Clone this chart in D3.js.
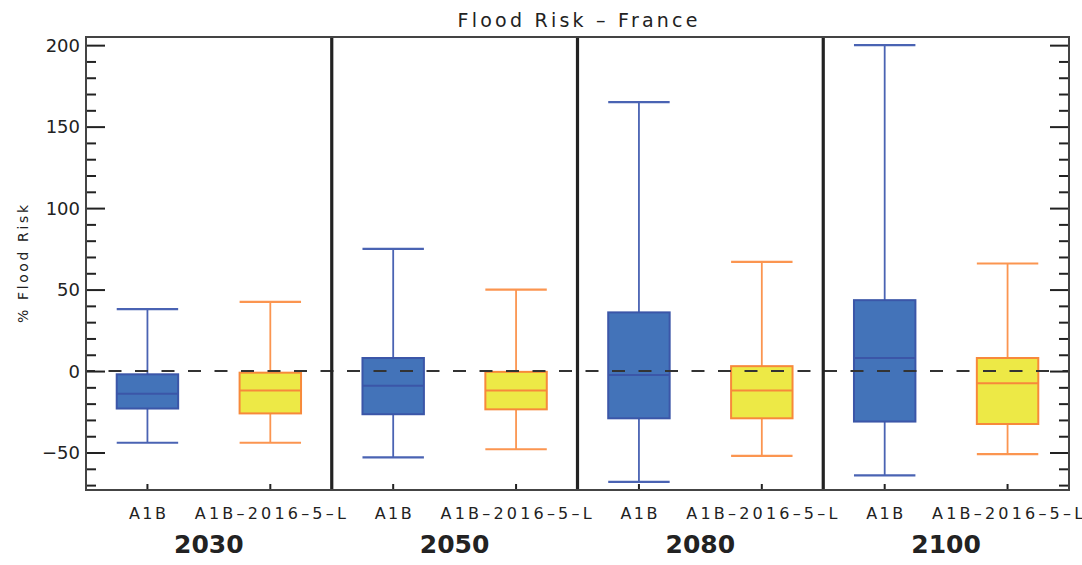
<!DOCTYPE html>
<html>
<head>
<meta charset="utf-8">
<script src="https://cdn.jsdelivr.net/npm/d3@7"></script>
<style>
	body { margin: 0; background: white; }
	text { font-family: "DejaVu Sans", sans-serif; fill: #222; }
</style>
</head>
<body>
<svg></svg>
<script>
// values
var years = ['2030', '2050', '2080', '2100'];
var scenarios = ['A1B', 'A1B-2016-5-L'];

var a1bLow    = [-44, -53, -68, -64];
var a1bQ1     = [-23, -26.5, -29, -31];
var a1bMedian = [-14, -9, -2.5, 8];
var a1bQ3     = [-2, 8, 36, 43.5];
var a1bHigh   = [38, 75, 165, 200];

var lLow    = [-44, -48, -52, -51];
var lQ1     = [-26, -23.5, -29, -32.5];
var lMedian = [-12, -12, -12, -7.5];
var lQ3     = [-1, -0.5, 3, 8];
var lHigh   = [42.5, 50, 67, 66];

var yMajor = [-50, 0, 50, 100, 150, 200];
var yMinor = d3.range(-70, 201, 10);

var unit = {width: 1082, height: 565};
var m = {left: 86, right: 1069, top: 37, bottom: 490};

var svg = d3.select('svg')
			.attr('width', unit.width)
			.attr('height', unit.height);

var x = d3.scaleBand().domain(years).range([m.left, m.right]);
var xIn = d3.scalePoint().domain(scenarios).range([0, x.bandwidth()]).padding(0.5);
var y = d3.scaleLinear().domain([-73, 205]).range([m.bottom, m.top]);
var boxW = x.bandwidth() * 0.25;

var styles = {
	'A1B': {fill: '#4373b9', stroke: '#3b56a8', whisker: '#4a63b3'},
	'A1B-2016-5-L': {fill: '#ede946', stroke: '#f7893b', whisker: '#fb9550'}
};

var data = [];
years.forEach(function(yr, i){
	data.push({year: yr, sc: 'A1B', low: a1bLow[i], q1: a1bQ1[i], med: a1bMedian[i], q3: a1bQ3[i], high: a1bHigh[i]});
	data.push({year: yr, sc: 'A1B-2016-5-L', low: lLow[i], q1: lQ1[i], med: lMedian[i], q3: lQ3[i], high: lHigh[i]});
});
var cx = (d) => x(d.year) + xIn(d.sc);
// the plotting font draws hyphens as long dashes
var dash = (s) => s.replace(/-/g, '\u2013');

// title
svg.append('text')
	.attr('x', (m.left + m.right) / 2)
	.attr('y', 27)
	.attr('text-anchor', 'middle')
	.attr('font-size', 19)
	.attr('textLength', 240)
	.attr('lengthAdjust', 'spacing')
	.text(dash('Flood Risk - France'));

// y label
svg.append('text')
	.attr('transform', 'translate(28,264) rotate(-90)')
	.attr('text-anchor', 'middle')
	.attr('font-size', 14)
	.attr('textLength', 118)
	.attr('lengthAdjust', 'spacing')
	.text('% Flood Risk');

// boxes
var g = svg.append('g');
var box = g.selectAll('.box').data(data).enter().append('g').classed('box', true);

box.append('line')
	.attr('x1', cx).attr('x2', cx)
	.attr('y1', (d) => y(d.high)).attr('y2', (d) => y(d.q3))
	.attr('stroke', (d) => styles[d.sc].whisker).attr('stroke-width', 1.8);
box.append('line')
	.attr('x1', cx).attr('x2', cx)
	.attr('y1', (d) => y(d.q1)).attr('y2', (d) => y(d.low))
	.attr('stroke', (d) => styles[d.sc].whisker).attr('stroke-width', 1.8);
['high', 'low'].forEach(function(k){
	box.append('line')
		.attr('x1', (d) => cx(d) - boxW / 2).attr('x2', (d) => cx(d) + boxW / 2)
		.attr('y1', (d) => y(d[k])).attr('y2', (d) => y(d[k]))
		.attr('stroke', (d) => styles[d.sc].whisker).attr('stroke-width', 2.2);
});
box.append('rect')
	.attr('x', (d) => cx(d) - boxW / 2)
	.attr('width', boxW)
	.attr('y', (d) => y(d.q3))
	.attr('height', (d) => y(d.q1) - y(d.q3))
	.attr('fill', (d) => styles[d.sc].fill)
	.attr('stroke', (d) => styles[d.sc].stroke)
	.attr('stroke-width', 2);
box.append('line')
	.attr('x1', (d) => cx(d) - boxW / 2).attr('x2', (d) => cx(d) + boxW / 2)
	.attr('y1', (d) => y(d.med)).attr('y2', (d) => y(d.med))
	.attr('stroke', (d) => styles[d.sc].stroke).attr('stroke-width', 2);

// zero line
svg.append('line')
	.attr('x1', m.left).attr('x2', m.right)
	.attr('y1', y(0)).attr('y2', y(0))
	.attr('stroke', '#333').attr('stroke-width', 2)
	.attr('stroke-dasharray', '13,13.5')
	.attr('stroke-dashoffset', 4);

// group dividers
svg.selectAll('.divider').data(years.slice(1)).enter().append('line')
	.attr('x1', (d) => x(d)).attr('x2', (d) => x(d))
	.attr('y1', m.top).attr('y2', m.bottom)
	.attr('stroke', '#222').attr('stroke-width', 3.2);

// y axes, left and right
var minorOnly = yMinor.filter((v) => yMajor.indexOf(v) < 0);
var left = svg.append('g').attr('transform', 'translate(' + m.left + ',0)')
	.call(d3.axisRight(y).tickValues(yMajor).tickSize(19).tickFormat(''));
left.append('g').call(d3.axisRight(y).tickValues(minorOnly).tickSize(10).tickFormat(''));
var right = svg.append('g').attr('transform', 'translate(' + m.right + ',0)')
	.call(d3.axisLeft(y).tickValues(yMajor).tickSize(19).tickFormat(''));
right.append('g').call(d3.axisLeft(y).tickValues(minorOnly).tickSize(10).tickFormat(''));
svg.selectAll('.domain').remove();
svg.selectAll('.tick line').attr('stroke', '#222').attr('stroke-width', 2);

svg.selectAll('.ylab').data(yMajor).enter().append('text')
	.attr('x', 80)
	.attr('y', (d) => y(d) + 6.5)
	.attr('text-anchor', 'end')
	.attr('font-size', 18)
	.text((d) => d < 0 ? '\u2212' + Math.abs(d) : d);

// x ticks and labels
svg.selectAll('.xtick').data(data).enter().append('line')
	.attr('x1', cx).attr('x2', cx)
	.attr('y1', m.bottom).attr('y2', m.bottom - 6)
	.attr('stroke', '#222').attr('stroke-width', 2);

svg.selectAll('.xlab').data(data).enter().append('text')
	.attr('x', cx)
	.attr('y', 519)
	.attr('text-anchor', 'middle')
	.attr('font-size', 16)
	.attr('textLength', (d) => d.sc == 'A1B' ? 37 : 151)
	.attr('lengthAdjust', 'spacing')
	.text((d) => dash(d.sc));

svg.selectAll('.year').data(years).enter().append('text')
	.attr('x', (d) => x(d) + x.bandwidth() / 2)
	.attr('y', 553)
	.attr('text-anchor', 'middle')
	.attr('font-size', 25)
	.attr('font-weight', 'bold')
	.text((d) => d);

// frame
svg.append('rect')
	.attr('x', m.left).attr('y', m.top)
	.attr('width', m.right - m.left).attr('height', m.bottom - m.top)
	.attr('fill', 'none').attr('stroke', '#444').attr('stroke-width', 2);
</script>
</body>
</html>
